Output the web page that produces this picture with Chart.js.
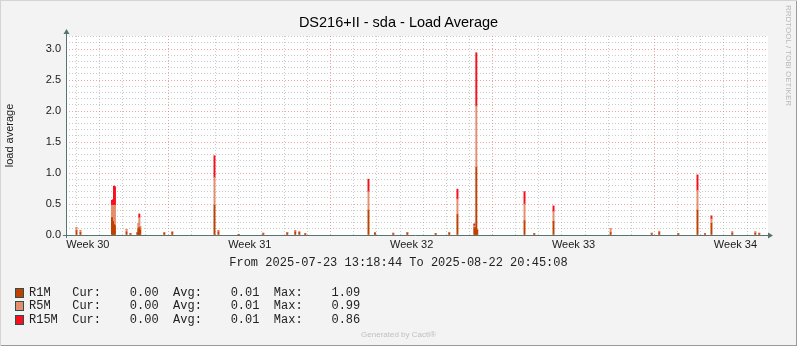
<!DOCTYPE html>
<html>
<head>
<meta charset="utf-8">
<title>DS216+II - sda - Load Average</title>
<script src="https://cdn.jsdelivr.net/npm/chart.js@4.4.1/dist/chart.umd.min.js"></script>
<style>
  body { margin: 0; background: #f3f3f3; }
  #graph {
    position: relative; width: 797px; height: 346px; background: #f3f3f3;
    box-shadow: inset 1px 1px 0 #d4d4d4, inset -1px -1px 0 #9a9a9a;
    font-family: 'Liberation Sans', Arial, sans-serif; overflow: hidden;
  }
  #graph canvas { position: absolute; left: 0; top: 0; }
  .txt { position: absolute; white-space: pre; }
  .title { left: 0; width: 797px; top: 14px; text-align: center; font-size: 14.5px; line-height: 17px; color: #000; }
  .mono { font-family: 'Liberation Mono', 'Courier New', monospace; font-size: 12px; line-height: 14px; color: #222; }
  .range { left: 0; width: 797px; text-align: center; top: 256px; }
  .sq { position: absolute; left: 15px; width: 7px; height: 8px; border: 1px solid #2f4f4f; }
  .leg { left: 29px; }
  .brand { left: 783px; top: 5px; writing-mode: vertical-rl; font-size: 8px; line-height: 10px; color: #b9b9b9; }
  .gen { left: 0; width: 797px; text-align: center; top: 330px; font-size: 8px; line-height: 10px; color: #c0c0c0; }
</style>
</head>
<body>
<div id="graph">
  <canvas id="loadChart" width="797" height="346"></canvas>
  <div class="txt title">DS216+II - sda - Load Average</div>
  <div class="txt brand">RRDTOOL / TOBI OETIKER</div>
  <div class="txt mono range">From 2025-07-23 13:18:44 To 2025-08-22 20:45:08</div>
  <div id="legend"></div>
  <div class="txt gen">Generated by Cacti®</div>
</div>
<script>
// time axis: hours since 2025-07-23 13:18:44
const totalHours = 727.44;
const firstMidnight = 10.69;             // 2025-07-24 00:00
const weekLineHours = [106.69, 274.69, 442.69, 610.69];   // Monday 00:00
const weekLabelHours = [22.69, 190.69, 358.69, 526.69, 694.69];
const weekLabels = ['Week 30', 'Week 31', 'Week 32', 'Week 33', 'Week 34'];

const yMax = 3.21;
const yTickLabels = ['0.0', '0.5', '1.0', '1.5', '2.0', '2.5', '3.0'];

const seriesNames = ['R1M', 'R5M', 'R15M'];
const curValues = ['0.00', '0.00', '0.00'];
const avgValues = ['0.01', '0.01', '0.01'];
const maxValues = ['1.09', '0.99', '0.86'];

// load average samples (only non-zero ones)
const hours = [10.9, 15.0, 47.7, 48.8, 49.8, 50.8, 62.8, 66.9, 74.0, 75.0, 76.1, 77.1,
  102.0, 110.3, 154.1, 158.2, 179.2, 204.7, 229.6, 237.9, 242.1, 248.3, 313.9, 320.6,
  339.6, 354.2, 383.6, 397.7, 406.2, 423.7, 424.7, 425.8, 426.8, 475.8, 485.9, 505.9,
  565.2, 607.8, 615.6, 635.4, 655.3, 663.1, 669.8, 691.4, 715.3, 719.4];
const r1m = [0.07, 0.04, 0.28, 0.22, 0.17, 0.15, 0.05, 0.02, 0.03, 0.10, 0.12, 0.08,
  0.03, 0.04, 0.48, 0.05, 0.01, 0.02, 0.03, 0.05, 0.04, 0.02, 0.40, 0.03,
  0.02, 0.03, 0.02, 0.03, 0.33, 0.12, 0.10, 1.09, 0.08, 0.23, 0.02, 0.22,
  0.04, 0.02, 0.04, 0.02, 0.40, 0.02, 0.19, 0.03, 0.03, 0.02];
const r5m = [0.05, 0.03, 0.20, 0.26, 0.31, 0.33, 0.04, 0.00, 0.01, 0.08, 0.16, 0.06,
  0.01, 0.01, 0.45, 0.02, 0.00, 0.01, 0.01, 0.02, 0.01, 0.00, 0.30, 0.01,
  0.01, 0.01, 0.00, 0.01, 0.25, 0.03, 0.02, 0.99, 0.00, 0.27, 0.00, 0.16,
  0.06, 0.01, 0.02, 0.00, 0.32, 0.00, 0.07, 0.02, 0.02, 0.01];
const r15m = [0, 0, 0.08, 0.09, 0.31, 0.30, 0, 0, 0, 0, 0.06, 0,
  0, 0, 0.35, 0, 0, 0, 0, 0, 0, 0, 0.20, 0,
  0, 0, 0, 0, 0.16, 0.03, 0, 0.86, 0, 0.20, 0, 0.09,
  0, 0, 0, 0, 0.25, 0, 0.05, 0, 0, 0];

const colors = ['#c04000', '#e58e6e', '#f5101e'];
const axisColor = '#557670';

// legend rows
const legendTops = [285.5, 299, 313];
let legendHtml = '';
seriesNames.forEach((name, i) => {
  const label = (name + '      ').slice(0, 6);
  legendHtml += '<div class="sq" style="top:' + (legendTops[i] + 2) + 'px;background:' + colors[i] + '"></div>';
  legendHtml += '<div class="txt mono leg" style="top:' + legendTops[i] + 'px">' +
    label + 'Cur:    ' + curValues[i] + '  Avg:    ' + avgValues[i] + '  Max:    ' + maxValues[i] + '</div>';
});
document.getElementById('legend').innerHTML = legendHtml;

function toPoints(values) {
  return hours.map((h, i) => ({ x: h, y: values[i] }));
}

// grid positions
const dayHours = [];
for (let h = firstMidnight; h < totalHours; h += 24) dayHours.push(h);
const yGrid = [];
for (let i = 0; i <= 32; i++) yGrid.push(i / 10);

const minorGrid = 'rgba(140,140,140,0.45)';
const majorGrid = 'rgba(225,90,90,0.55)';

const plotBackground = {
  id: 'plotBackground',
  beforeDraw(chart) {
    const a = chart.chartArea;
    const c = chart.ctx;
    c.save();
    c.fillStyle = '#ffffff';
    c.fillRect(a.left, a.top, a.right - a.left + 1, a.bottom - a.top);
    c.restore();
  }
};

// axis lines with arrow heads
const axisArrows = {
  id: 'axisArrows',
  afterDraw(chart) {
    const a = chart.chartArea;
    const c = chart.ctx;
    const x0 = a.left + 0.5, y0 = a.bottom + 0.5;
    c.save();
    c.strokeStyle = axisColor;
    c.fillStyle = axisColor;
    c.lineWidth = 1;
    c.beginPath();
    c.moveTo(x0, a.bottom + 3);
    c.lineTo(x0, a.top - 2);
    c.moveTo(a.left - 3, y0);
    c.lineTo(a.right + 1, y0);
    c.stroke();
    c.beginPath();
    c.moveTo(x0, a.top - 7);
    c.lineTo(x0 - 3, a.top - 2);
    c.lineTo(x0 + 3, a.top - 2);
    c.closePath();
    c.fill();
    c.beginPath();
    c.moveTo(a.right + 6, y0);
    c.lineTo(a.right + 1, y0 - 3);
    c.lineTo(a.right + 1, y0 + 3);
    c.closePath();
    c.fill();
    c.restore();
  }
};

const ctx = document.getElementById('loadChart').getContext('2d');
const loadChart = new Chart(ctx, {
  type: 'bar',
  data: {
    datasets: seriesNames.map((name, i) => ({
      label: name,
      data: toPoints([r1m, r5m, r15m][i]),
      backgroundColor: colors[i],
      borderWidth: 0,
      barThickness: 1.3
    }))
  },
  options: {
    responsive: false,
    animation: false,
    layout: { padding: { top: 36, right: 30, bottom: 91, left: 0 } },
    plugins: { legend: { display: false }, tooltip: { enabled: false } },
    scales: {
      x: {
        type: 'linear',
        stacked: true,
        offset: false,
        min: 0,
        max: totalHours,
        afterFit(scale) { scale.height = 20; },
        afterBuildTicks(scale) {
          scale.ticks = dayHours.concat(weekLabelHours).map(v => ({ value: v }));
        },
        ticks: {
          autoSkip: false,
          maxRotation: 0,
          padding: 3,
          color: '#1a1a1a',
          font: { family: 'Liberation Sans', size: 11 },
          callback(value) {
            const i = weekLabelHours.indexOf(value);
            return i >= 0 ? weekLabels[i] : '';
          }
        },
        grid: {
          offset: false,
          drawTicks: false,
          color(c) {
            const v = c.tick && c.tick.value;
            if (weekLineHours.some(w => Math.abs(w - v) < 0.01)) return majorGrid;
            if (weekLabelHours.indexOf(v) >= 0) return 'rgba(0,0,0,0)';
            return minorGrid;
          }
        },
        border: { display: false, dash: [1, 2] }
      },
      y: {
        stacked: true,
        min: 0,
        max: yMax,
        afterFit(scale) { scale.width = 66; },
        afterBuildTicks(scale) {
          scale.ticks = yGrid.map(v => ({ value: v }));
        },
        ticks: {
          autoSkip: false,
          padding: 5,
          color: '#1a1a1a',
          font: { family: 'Liberation Sans', size: 11 },
          callback(value) {
            const k = Math.round(value * 10);
            return k % 5 === 0 ? yTickLabels[k / 5] : '';
          }
        },
        grid: {
          drawTicks: false,
          color(c) {
            const k = Math.round(c.tick.value * 10);
            return k % 5 === 0 ? majorGrid : minorGrid;
          }
        },
        border: { display: false, dash: [1, 2] },
        title: {
          display: true,
          text: 'load average',
          color: '#1a1a1a',
          font: { family: 'Liberation Sans', size: 11 },
          padding: { top: 3, bottom: 0 }
        }
      }
    }
  },
  plugins: [plotBackground, axisArrows]
});
</script>
</body>
</html>
